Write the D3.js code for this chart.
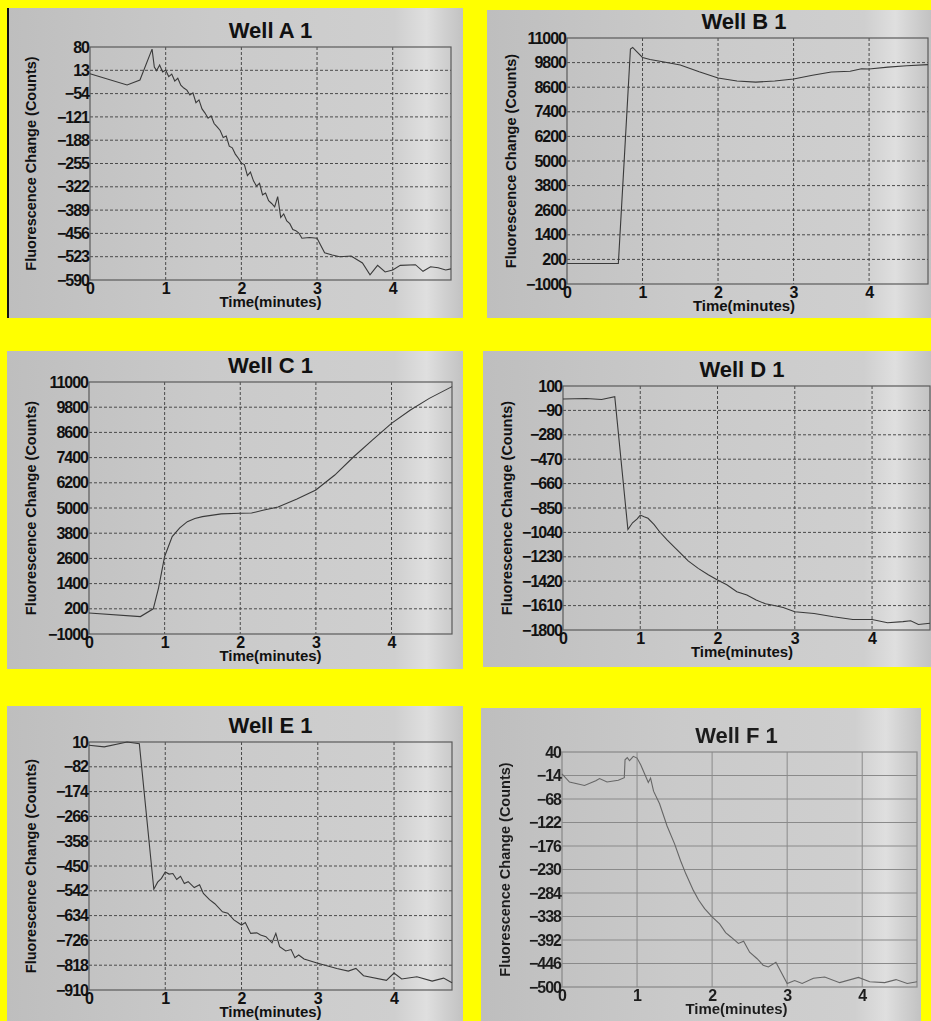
<!DOCTYPE html>
<html>
<head>
<meta charset="utf-8">
<script src="https://cdn.jsdelivr.net/npm/d3@7"></script>
<style>
  body { margin: 0; background: #ffff00; }
  svg { display: block; }
  text { font-family: "Liberation Sans", Arial, sans-serif; font-weight: bold; fill: #111; }
</style>
</head>
<body>
<div id="wells"></div>
<script>
var w = 931, h = 1021;

var titles = ['Well A 1', 'Well B 1', 'Well C 1', 'Well D 1', 'Well E 1', 'Well F 1'];
var xTicks = [0, 1, 2, 3, 4];

var ticksA = [80, 13, -54, -121, -188, -255, -322, -389, -456, -523, -590];
var timeA = [0, 0.49, 0.66, 0.82, 0.85, 0.88, 0.92, 0.96, 1.0, 1.04, 1.08, 1.12, 1.16, 1.2, 1.24, 1.28, 1.32, 1.36, 1.4, 1.44, 1.48, 1.52, 1.56, 1.6, 1.64, 1.68, 1.72, 1.76, 1.8, 1.84, 1.88, 1.92, 1.96, 2.0, 2.04, 2.08, 2.12, 2.16, 2.2, 2.24, 2.28, 2.32, 2.36, 2.4, 2.44, 2.48, 2.52, 2.56, 2.6, 2.64, 2.68, 2.72, 2.76, 2.8, 2.9, 3.0, 3.1, 3.2, 3.3, 3.45, 3.6, 3.7, 3.8, 3.9, 4.0, 4.1, 4.3, 4.4, 4.5, 4.6, 4.7, 4.77];
var valuesA = [3, -29, -15, 74, 22, 12, 28, 8, 14, -5, 2, -18, -10, -30, -38, -44, -58, -52, -80, -72, -98, -110, -125, -118, -140, -150, -160, -180, -176, -205, -210, -228, -240, -254, -258, -290, -280, -305, -320, -312, -345, -340, -362, -370, -380, -350, -410, -400, -420, -428, -445, -448, -455, -470, -468, -470, -512, -518, -523, -521, -541, -575, -548, -567, -561, -548, -546, -565, -552, -555, -561, -558];

var ticksB = [11000, 9800, 8600, 7400, 6200, 5000, 3800, 2600, 1400, 200, -1000];
var timeB = [0, 0.68, 0.76, 0.84, 0.87, 0.92, 1.0, 1.1, 1.25, 1.5, 1.75, 2.0, 2.25, 2.5, 2.75, 3.0, 3.25, 3.5, 3.75, 3.9, 4.0, 4.25, 4.5, 4.78];
var valuesB = [0, 0, 5200, 10460, 10540, 10350, 10050, 9950, 9850, 9680, 9350, 9050, 8900, 8850, 8900, 9000, 9180, 9340, 9380, 9500, 9490, 9580, 9650, 9700];

var ticksC = [11000, 9800, 8600, 7400, 6200, 5000, 3800, 2600, 1400, 200, -1000];
var timeC = [0, 0.68, 0.85, 0.92, 1.0, 1.1, 1.2, 1.3, 1.4, 1.5, 1.75, 2.0, 2.15, 2.3, 2.5, 2.75, 3.0, 3.25, 3.5, 3.75, 4.0, 4.25, 4.5, 4.8];
var valuesC = [0, -170, 200, 1200, 2690, 3640, 4050, 4350, 4500, 4590, 4720, 4750, 4760, 4890, 5050, 5430, 5860, 6570, 7440, 8240, 9030, 9670, 10220, 10780];

var ticksD = [100, -90, -280, -470, -660, -850, -1040, -1230, -1420, -1610, -1800];
var timeD = [0, 0.3, 0.5, 0.67, 0.84, 0.9, 0.96, 1.0, 1.05, 1.1, 1.18, 1.25, 1.35, 1.5, 1.62, 1.75, 1.88, 2.0, 2.12, 2.25, 2.38, 2.5, 2.62, 2.75, 2.85, 3.0, 3.25, 3.5, 3.75, 4.0, 4.2, 4.4, 4.5, 4.6, 4.75];
var valuesD = [-1, 3, -5, 17, -1017, -965, -935, -905, -918, -930, -980, -1035, -1100, -1190, -1262, -1320, -1370, -1411, -1448, -1502, -1528, -1567, -1596, -1611, -1625, -1658, -1671, -1697, -1718, -1718, -1744, -1735, -1728, -1757, -1748];

var ticksE = [10, -82, -174, -266, -358, -450, -542, -634, -726, -818, -910];
var timeE = [0, 0.2, 0.5, 0.66, 0.85, 0.9, 0.95, 1.0, 1.05, 1.1, 1.15, 1.2, 1.25, 1.3, 1.38, 1.45, 1.5, 1.58, 1.65, 1.75, 1.82, 1.9, 2.0, 2.05, 2.12, 2.2, 2.25, 2.32, 2.4, 2.45, 2.5, 2.58, 2.65, 2.7, 2.75, 2.82, 3.0, 3.25, 3.4, 3.5, 3.6, 3.9, 4.0, 4.1, 4.3, 4.5, 4.65, 4.76];
var valuesE = [-2, -8, 10, 4, -536, -510, -496, -472, -480, -478, -500, -488, -515, -508, -530, -520, -552, -575, -590, -620, -625, -650, -669, -660, -700, -698, -706, -712, -735, -700, -749, -765, -760, -790, -780, -795, -811, -830, -840, -830, -857, -874, -847, -869, -861, -877, -866, -883];

var ticksF = [40, -14, -68, -122, -176, -230, -284, -338, -392, -446, -500];
var timeF = [0, 0.1, 0.3, 0.45, 0.5, 0.6, 0.75, 0.83, 0.84, 0.87, 0.9, 0.95, 1.0, 1.05, 1.1, 1.15, 1.18, 1.22, 1.3, 1.4, 1.5, 1.58, 1.65, 1.75, 1.82, 1.9, 2.0, 2.1, 2.18, 2.25, 2.35, 2.42, 2.5, 2.6, 2.68, 2.75, 2.85, 3.0, 3.1, 3.2, 3.35, 3.5, 3.7, 3.95, 4.1, 4.3, 4.45, 4.6, 4.73];
var valuesF = [-10, -29, -37, -26, -21, -29, -25, -19, 22, 27, 20, 30, 26, 10, -10, -30, -20, -50, -79, -130, -171, -210, -240, -278, -300, -320, -339, -355, -375, -385, -400, -395, -420, -435, -450, -454, -443, -492, -485, -492, -480, -477, -490, -478, -488, -490, -483, -492, -488];

// paper sheet + plot area of each photographed printout
var panels = [
  { time: timeA, values: valuesA, ticks: ticksA, xMax: 4.77, paper: [7, 8, 463, 318], plot: [90, 47, 451, 280], edge: true },
  { time: timeB, values: valuesB, ticks: ticksB, xMax: 4.78, paper: [487, 10, 931, 318], plot: [567, 38, 928, 284] },
  { time: timeC, values: valuesC, ticks: ticksC, xMax: 4.8, paper: [7, 351, 463, 669], plot: [89, 382, 452, 634] },
  { time: timeD, values: valuesD, ticks: ticksD, xMax: 4.75, paper: [483, 351, 931, 667], plot: [563, 386, 930, 630] },
  { time: timeE, values: valuesE, ticks: ticksE, xMax: 4.76, paper: [7, 706, 463, 1021], plot: [89, 742, 452, 990] },
  { time: timeF, values: valuesF, ticks: ticksF, xMax: 4.73, paper: [481, 708, 921, 1021], plot: [562, 752, 917, 987], blur: true }
];

var svg = d3.select('#wells').append('svg')
  .attr('width', w)
  .attr('height', h);

svg.append('rect').attr('width', w).attr('height', h).attr('fill', '#ffff00');

var defs = svg.append('defs');
var grad = defs.append('linearGradient').attr('id', 'paper');
[[0, '#bebebe'], [0.45, '#cacaca'], [0.85, '#cfcfcf'], [0.92, '#dfdfdf'], [0.96, '#d0d0d0'], [1, '#c2c2c2']].forEach(function(s) {
  grad.append('stop').attr('offset', s[0]).attr('stop-color', s[1]);
});
defs.append('filter').attr('id', 'soft')
  .append('feGaussianBlur').attr('stdDeviation', 0.6);

function fontUp(sel, size, color) {
  sel.style('font-family', '"Liberation Sans", Arial, sans-serif')
    .style('font-weight', 'bold')
    .style('font-size', size + 'px')
    .style('fill', color);
}

panels.forEach(function(p, k) {
  var g = svg.append('g');
  if (p.blur) g.attr('filter', 'url(#soft)');
  var ink = p.blur ? '#1e1e1e' : '#111';

  g.append('rect')
    .attr('x', p.paper[0]).attr('y', p.paper[1])
    .attr('width', p.paper[2] - p.paper[0]).attr('height', p.paper[3] - p.paper[1])
    .attr('fill', 'url(#paper)');
  if (p.edge) {
    g.append('rect').attr('x', p.paper[0]).attr('y', p.paper[1])
      .attr('width', 2).attr('height', p.paper[3] - p.paper[1]).attr('fill', '#111');
  }

  var x = d3.scaleLinear().domain([0, p.xMax]).range([p.plot[0], p.plot[2]]);
  var y = d3.scaleLinear().domain([d3.min(p.ticks), d3.max(p.ticks)]).range([p.plot[3], p.plot[1]]);

  var gridColor = p.blur ? '#8a8a8a' : '#4a4a4a';
  var dash = p.blur ? null : '3,2';

  // horizontal grid
  g.selectAll('.hgrid')
    .data(p.ticks.slice(1, -1))
    .enter().append('line')
    .attr('x1', p.plot[0]).attr('x2', p.plot[2])
    .attr('y1', function(d) { return y(d); })
    .attr('y2', function(d) { return y(d); })
    .attr('stroke', gridColor).attr('stroke-width', 1)
    .attr('stroke-dasharray', dash);

  // vertical grid
  g.selectAll('.vgrid')
    .data(xTicks.slice(1))
    .enter().append('line')
    .attr('x1', function(d) { return x(d); })
    .attr('x2', function(d) { return x(d); })
    .attr('y1', p.plot[1]).attr('y2', p.plot[3])
    .attr('stroke', gridColor).attr('stroke-width', 1)
    .attr('stroke-dasharray', dash);

  // frame
  g.append('rect')
    .attr('x', p.plot[0]).attr('y', p.plot[1])
    .attr('width', p.plot[2] - p.plot[0]).attr('height', p.plot[3] - p.plot[1])
    .attr('fill', 'none').attr('stroke', p.blur ? '#888' : '#5a5a5a').attr('stroke-width', 1.2);

  // y axis labels
  var yAxis = d3.axisLeft(y).tickValues(p.ticks).tickSize(0).tickPadding(1).tickFormat(d3.format('d'));
  var ya = g.append('g').attr('transform', 'translate(' + p.plot[0] + ',0)').call(yAxis);
  ya.select('.domain').remove();
  fontUp(ya.selectAll('text'), 16, ink);
  ya.selectAll('text').style('letter-spacing', '-1px');

  // x axis labels
  var xAxis = d3.axisBottom(x).tickValues(xTicks).tickSize(0).tickPadding(3).tickFormat(d3.format('d'));
  var xa = g.append('g').attr('transform', 'translate(0,' + p.plot[3] + ')').call(xAxis);
  xa.select('.domain').remove();
  fontUp(xa.selectAll('text'), 16, ink);

  // titles
  var cx = (p.plot[0] + Math.min(p.plot[2], p.paper[2] - 10)) / 2;
  fontUp(g.append('text')
    .attr('x', cx).attr('y', p.plot[1] - 9)
    .attr('text-anchor', 'middle')
    .text(titles[k]), 22, ink);

  fontUp(g.append('text')
    .attr('x', cx).attr('y', p.plot[3] + 27)
    .attr('text-anchor', 'middle')
    .text('Time(minutes)'), 15, ink);

  var ly = (p.plot[1] + p.plot[3]) / 2;
  fontUp(g.append('text')
    .attr('transform', 'translate(' + (p.paper[0] + 29) + ',' + ly + ') rotate(-90)')
    .attr('text-anchor', 'middle')
    .text('Fluorescence Change (Counts)'), 14.5, ink);

  // trace
  var pts = p.time.map(function(t, i) { return [t, p.values[i]]; });
  var line = d3.line()
    .x(function(d) { return x(d[0]); })
    .y(function(d) { return y(d[1]); });
  g.append('path')
    .datum(pts)
    .attr('d', line)
    .attr('fill', 'none')
    .attr('stroke', p.blur ? '#666' : '#3a3a3a')
    .attr('stroke-width', 1.1);
});
</script>
</body>
</html>
